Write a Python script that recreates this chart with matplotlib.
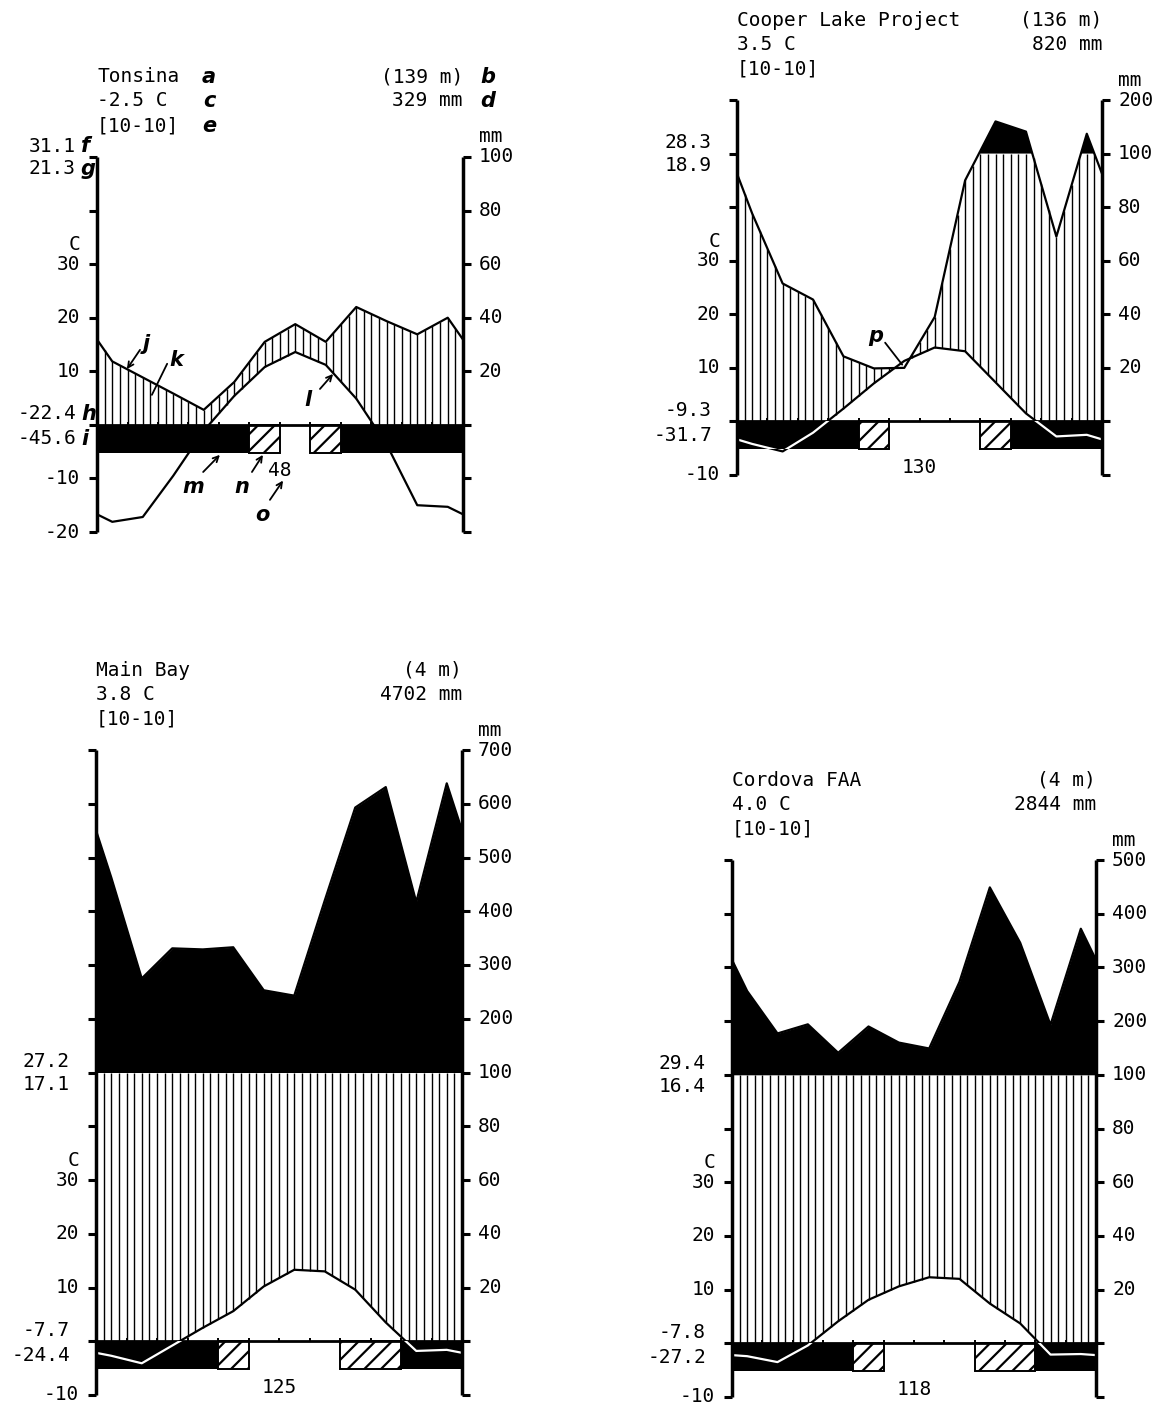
import numpy as np
import matplotlib
matplotlib.use("Agg")
import matplotlib.pyplot as plt
from matplotlib.patches import Rectangle
from itertools import groupby

W, H = 1164, 1408

# ---------------- data ----------------
names = ["Tonsina", "Cooper Lake Project", "Main Bay", "Cordova FAA"]
elevations = ["(139 m)", "(136 m)", "(4 m)", "(4 m)"]
mean_temps = ["-2.5 C", "3.5 C", "3.8 C", "4.0 C"]
totals = ["329 mm", "820 mm", "4702 mm", "2844 mm"]
years = ["[10-10]", "[10-10]", "[10-10]", "[10-10]"]
tmax_abs = ["31.1", "28.3", "27.2", "29.4"]
tmax_mean = ["21.3", "18.9", "17.1", "16.4"]
tmin_mean = ["-22.4", "-9.3", "-7.7", "-7.8"]
tmin_abs = ["-45.6", "-31.7", "-24.4", "-27.2"]
frost_free_days = ["48", "130", "125", "118"]

tonsina_temp = [-18.1, -17.2, -9.5, -1.1, 5.4, 10.8, 13.6, 11.2, 4.9, -3.7, -15.0, -15.3]
tonsina_prec = [23.7, 17.7, 11.7, 5.6, 16, 31, 37.6, 31, 44, 38.7, 33.8, 40]
cooper_temp = [-4.2, -5.6, -2.1, 2.4, 7.1, 11.3, 13.8, 13.1, 7.3, 1.5, -2.8, -2.5]
cooper_prec = [77.6, 51.5, 45.5, 24.3, 19.8, 20, 39, 90, 160, 141, 69, 137]
mainbay_temp = [-2.7, -4.1, -0.8, 2.5, 5.6, 10.2, 13.3, 13.0, 9.6, 3.5, -1.8, -1.6]
mainbay_prec = [463, 275, 331, 329, 333, 253, 243, 420, 593, 631, 417, 638]
cordova_temp = [-2.4, -3.5, -0.4, 4.1, 8.1, 10.6, 12.3, 12.0, 7.4, 3.7, -2.1, -2.0]
cordova_prec = [256, 177, 194, 141, 190, 160, 149, 273, 449, 346, 193, 372]

# B = frost month, H = possible frost, W = frost free
frost = ["BBBBBHWHBBBB", "BBBBHWWWHBBB", "BBBBHWWWHHBB", "BBBBHWWWHHBB"]

# ---------------- style ----------------
MONO = "DejaVu Sans Mono"
FS = 14
LW = 1.6
plt.rcParams["hatch.linewidth"] = 1.6
BAR = 5.2
XM = np.r_[0, np.arange(12) + 0.5, 12]


def disp(p):
    """mm -> diagram units (1 C = 2 mm, above 100 mm 1 C = 10 mm)"""
    p = np.asarray(p, float)
    return np.where(p <= 100, p / 2, 50 + (p - 100) / 10)


def extend(v):
    v = np.asarray(v, float)
    edge = (v[0] + v[-1]) / 2
    return np.r_[edge, v, edge]


def put(ax, s, xy, off, ha="left", va="center", **kw):
    kw.setdefault("family", MONO)
    kw.setdefault("fontsize", FS)
    ax.annotate(s, xy=xy, xytext=off, textcoords="offset pixels",
                ha=ha, va=va, annotation_clip=False, **kw)


fig = plt.figure(figsize=(W / 100, H / 100), dpi=100)


def panel(k, box, ymin, ymax, temp, prec, white_bar, dec_off):
    l, t, r, b = box
    ax = fig.add_axes([l / W, 1 - b / H, (r - l) / W, (b - t) / H])
    ax.set_xlim(0, 12)
    ax.set_ylim(ymin, ymax)
    ax.axis("off")

    te = extend(temp)
    pe = extend(disp(prec))

    # humid period: vertical hatching between temperature and rain curve
    xs = np.arange(0.25, 12, 0.25)
    lo = np.maximum(np.interp(xs, XM, te), 0)
    hi = np.minimum(np.interp(xs, XM, pe), 50)
    m = hi > lo
    ax.vlines(xs[m], lo[m], hi[m], color="k", lw=1.0, zorder=2)
    # above 100 mm: solid black
    ax.fill_between(XM, 50, pe, where=pe > 50, interpolate=True,
                    color="k", lw=0, zorder=2)

    # frost bar
    start = 0
    for code, grp in groupby(frost[k]):
        n = len(list(grp))
        if code == "B":
            ax.bar(start, BAR, width=n, bottom=-BAR, align="edge",
                   color="k", lw=0, zorder=3)
        elif code == "H":
            ax.bar(start, BAR, width=n, bottom=-BAR, align="edge",
                   facecolor="white", edgecolor="k", hatch="//", lw=1.4, zorder=3)
        start += n

    ax.plot([0, 12], [0, 0], color="k", lw=2.0, zorder=4)
    ax.vlines(np.arange(1, 12), 0, 0.6, color="k", lw=1.4, zorder=4)

    ax.plot(XM, pe, color="k", lw=LW, zorder=4)
    ax.plot(XM, te, color="k", lw=LW, zorder=4)
    if white_bar:
        wl, = ax.plot(XM, te, color="white", lw=LW, zorder=5)
        wl.set_clip_path(Rectangle((0, -BAR), 12, BAR, transform=ax.transData))

    # axes with ticks
    for xa, mk in ((0, 0), (12, 1)):
        ax.plot([xa, xa], [ymin, ymax], color="k", lw=2.5, clip_on=False,
                solid_capstyle="butt", zorder=6)
        ys = np.arange(ymin, ymax + 1, 10)
        ax.plot(np.full(len(ys), xa), ys, ls="none", marker=mk, ms=6, mew=2.2,
                color="k", clip_on=False, zorder=6)

    # left labels
    for y in [v for v in (-20, -10, 10, 20, 30) if v >= ymin]:
        put(ax, str(y), (0, y), (-17, 0), ha="right")
    put(ax, "C", (0, 30), (-17, 10), ha="right", va="bottom")
    put(ax, tmax_abs[k], (0, 50), (-dec_off, 11), ha="right")
    put(ax, tmax_mean[k], (0, 50), (-dec_off, -12), ha="right")
    put(ax, tmin_mean[k], (0, 0), (-dec_off, 11), ha="right")
    put(ax, tmin_abs[k], (0, 0), (-dec_off, -14), ha="right")

    # right labels (mm)
    for d in range(10, ymax + 1, 10):
        mm = d * 2 if d <= 50 else 100 + (d - 50) * 10
        put(ax, str(mm), (12, d), (16, 0))
    put(ax, "mm", (12, ymax), (16, 20))

    # header
    put(ax, names[k], (0, ymax), (0, 80))
    put(ax, mean_temps[k], (0, ymax), (0, 56))
    put(ax, years[k], (0, ymax), (0, 31))
    put(ax, elevations[k], (12, ymax), (0, 80), ha="right")
    put(ax, totals[k], (12, ymax), (0, 56), ha="right")

    put(ax, frost_free_days[k], (6, -8.6), (0, 0), ha="center")
    return ax


ax1 = panel(0, (97, 157, 463, 532), -20, 50, tonsina_temp, tonsina_prec, False, 21)
ax2 = panel(1, (737, 100, 1102, 475), -10, 60, cooper_temp, cooper_prec, True, 25)
ax3 = panel(2, (96, 750, 462, 1395), -10, 110, mainbay_temp, mainbay_prec, True, 26)
ax4 = panel(3, (732, 860, 1096, 1397), -10, 90, cordova_temp, cordova_prec, True, 26)

# ---------------- key letters ----------------
LET = dict(family="DejaVu Sans", style="italic", weight="bold", fontsize=15)
for s, off in (("a", (112, 80)), ("c", (112, 56)), ("e", (112, 31))):
    put(ax1, s, (0, 50), off, ha="center", **LET)
for s, off in (("b", (25, 80)), ("d", (25, 56))):
    put(ax1, s, (12, 50), off, ha="center", **LET)
put(ax1, "f", (0, 50), (-16, 11), **LET)
put(ax1, "g", (0, 50), (-16, -12), **LET)
put(ax1, "h", (0, 0), (-16, 11), **LET)
put(ax1, "i", (0, 0), (-16, -14), **LET)

arrow = dict(arrowstyle="->", color="k", lw=1.3, shrinkA=0, shrinkB=0)
plain = dict(arrowstyle="-", color="k", lw=1.3, shrinkA=0, shrinkB=0)
for s, txt, tail, tip, props in (
    ("j", (1.6, 15.0), (1.41, 14.0), (0.98, 10.4), arrow),
    ("k", (2.6, 12.2), (2.30, 11.4), (1.80, 5.6), plain),
    ("l", (6.9, 4.6), (7.31, 6.7), (7.74, 9.5), arrow),
    ("m", (3.15, -11.6), (3.48, -8.8), (4.03, -5.6), arrow),
    ("n", (4.75, -11.6), (5.08, -8.8), (5.44, -5.6), arrow),
    ("o", (5.44, -16.8), (5.67, -14.0), (6.10, -10.4), arrow),
):
    ax1.annotate("", xy=tip, xytext=tail, arrowprops=props, zorder=7)
    ax1.text(*txt, s, ha="center", va="center", zorder=7, **LET)

ax2.annotate("", xy=(5.43, 10.6), xytext=(4.87, 14.7), arrowprops=plain, zorder=7)
ax2.text(4.55, 16.0, "p", ha="center", va="center", zorder=7, **LET)

fig.savefig("out.png", dpi=100, facecolor="white")
